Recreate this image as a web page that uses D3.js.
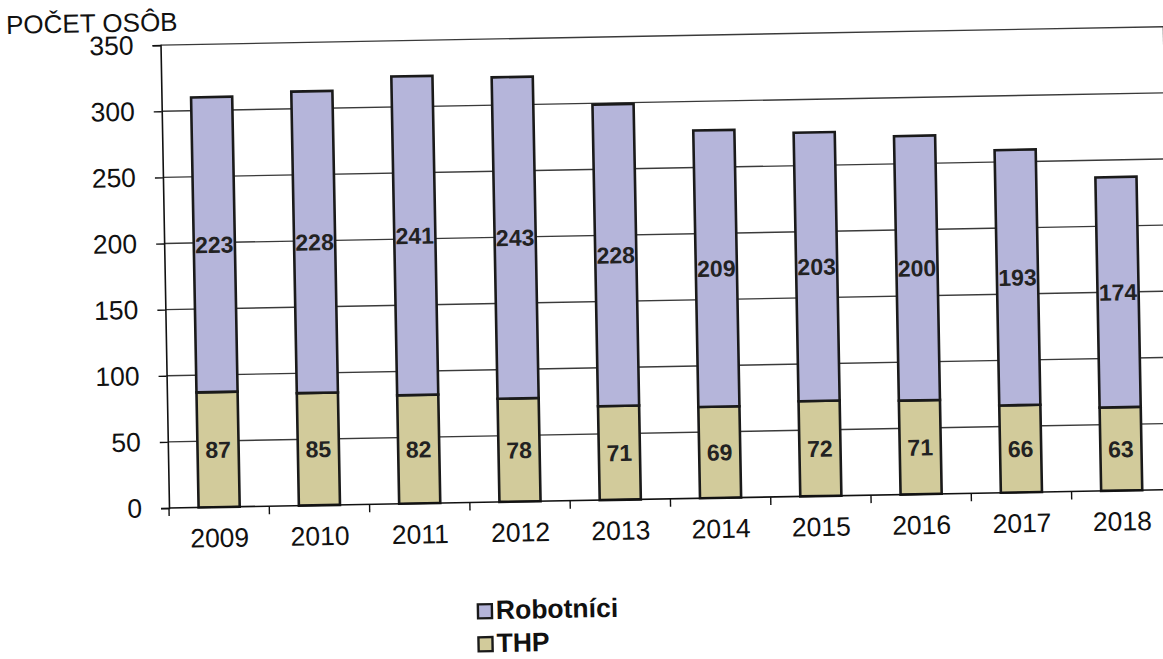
<!DOCTYPE html>
<html>
<head>
<meta charset="utf-8">
<script src="https://cdn.jsdelivr.net/npm/d3@7"></script>
<style>
  html, body { margin: 0; padding: 0; background: #ffffff; }
  svg { display: block; }
  text { font-family: "Liberation Sans", Arial, sans-serif; }
</style>
</head>
<body>
<svg id="chart" width="1163" height="659"></svg>
<script>
// ---- data ----
const years = ["2009","2010","2011","2012","2013","2014","2015","2016","2017","2018"];
const thp = [87, 85, 82, 78, 71, 69, 72, 71, 66, 63];
const robotnici = [223, 228, 241, 243, 228, 209, 203, 200, 193, 174];
const yTicks = [0, 50, 100, 150, 200, 250, 300, 350];
const seriesNames = ["Robotníci", "THP"];
const yTitle = "POČET OSÔB";

// ---- layout ----
const origin = { x: 169, y: 508 };
const plotW = 1003, plotH = 463;
const colors = { "Robotníci": "#b5b5da", "THP": "#d2cb9b" };

const svg = d3.select("#chart");
// the reference is a slightly tilted scan: rotate the whole drawing a little
const root = svg.append("g").attr("transform", `rotate(-1.05, ${origin.x}, ${origin.y})`);
const g = root.append("g").attr("transform", `translate(${origin.x},${origin.y - plotH})`);

const x = d3.scaleBand().domain(years).range([0, plotW]).paddingInner(0.59).paddingOuter(0.295);
const y = d3.scaleLinear().domain([0, 350]).range([plotH, 0]);

// gridlines
g.append("g").selectAll("line").data(yTicks.filter(t => t > 0)).join("line")
  .attr("x1", 0).attr("x2", plotW)
  .attr("y1", d => y(d)).attr("y2", d => y(d))
  .attr("stroke", "#3a3a3a").attr("stroke-width", 1.4);
// right border
g.append("line").attr("x1", plotW).attr("x2", plotW).attr("y1", 0).attr("y2", plotH)
  .attr("stroke", "#3a3a3a").attr("stroke-width", 1.4);

// stacked data
const rows = years.map((yr, i) => ({ year: yr, THP: thp[i], "Robotníci": robotnici[i] }));
const stack = d3.stack().keys(["THP", "Robotníci"])(rows);

const layers = g.append("g").selectAll("g").data(stack).join("g")
  .attr("fill", d => colors[d.key]);
layers.selectAll("rect").data(d => d).join("rect")
  .attr("x", d => x(d.data.year))
  .attr("width", x.bandwidth())
  .attr("y", d => y(d[1]))
  .attr("height", d => y(d[0]) - y(d[1]))
  .attr("stroke", "#1a1a1a").attr("stroke-width", 2.6);

// data labels
const lbl = g.append("g");
stack.forEach(layer => {
  lbl.selectAll(null).data(layer).join("text")
    .attr("x", d => x(d.data.year) + x.bandwidth() / 2)
    .attr("y", d => (y(d[0]) + y(d[1])) / 2)
    .attr("dy", "0.36em")
    .attr("text-anchor", "middle")
    .attr("font-size", 23).attr("font-weight", "bold").attr("fill", "#222")
    .text(d => d[1] - d[0]);
});

// y axis
const yAxis = g.append("g").call(d3.axisLeft(y).tickValues(yTicks).tickSize(8).tickPadding(19));
yAxis.select(".domain").attr("stroke", "#111").attr("stroke-width", 1.6);
yAxis.selectAll(".tick line").attr("stroke", "#111").attr("stroke-width", 1.4);
yAxis.selectAll(".tick text").attr("font-size", 26.5).attr("fill", "#111")
  .attr("font-family", "Liberation Sans, Arial, sans-serif");

// x axis: ticks at band boundaries
const xAxisG = g.append("g").attr("transform", `translate(0,${plotH})`);
xAxisG.append("line").attr("x1", 0).attr("x2", plotW).attr("y1", 0).attr("y2", 0)
  .attr("stroke", "#111").attr("stroke-width", 1.6);
const step = x.step();
const boundaries = d3.range(years.length + 1).map(i => i * step);
xAxisG.selectAll("line.tk").data(boundaries).join("line").attr("class", "tk")
  .attr("x1", d => d).attr("x2", d => d).attr("y1", 0).attr("y2", 8)
  .attr("stroke", "#111").attr("stroke-width", 1.4);
xAxisG.selectAll("text").data(years).join("text")
  .attr("x", d => x(d) + x.bandwidth() / 2)
  .attr("y", 40)
  .attr("text-anchor", "middle")
  .attr("font-size", 26.5).attr("fill", "#111")
  .text(d => d);

// axis title
root.append("text").attr("x", 15).attr("y", 31)
  .attr("font-size", 26).attr("fill", "#111").text(yTitle);

// legend
const legend = root.append("g").attr("transform", "translate(475,609)");
seriesNames.forEach((name, i) => {
  const row = legend.append("g").attr("transform", `translate(0,${i * 33})`);
  row.append("rect").attr("x", 1).attr("y", 1).attr("width", 14).attr("height", 14)
    .attr("fill", colors[name]).attr("stroke", "#1a1a1a").attr("stroke-width", 2.4);
  row.append("text").attr("x", 19).attr("y", 16)
    .attr("font-size", 26.5).attr("font-weight", "bold").attr("fill", "#111").text(name);
});
</script>
</body>
</html>
